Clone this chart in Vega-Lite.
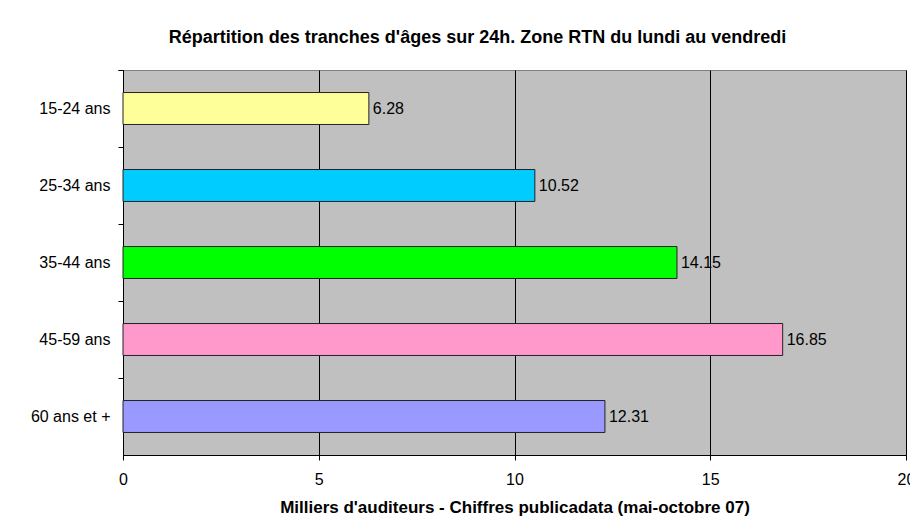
{
  "$schema": "https://vega.github.io/schema/vega-lite/v6.json",
  "width": 783,
  "height": 385,
  "autosize": {"type": "none"},
  "padding": {"left": 123, "top": 70, "right": 4, "bottom": 74},
  "background": "white",
  "title": {
    "text": "Répartition des tranches d'âges sur 24h. Zone RTN du lundi au vendredi",
    "font": "Liberation Sans",
    "fontSize": 18,
    "fontWeight": "bold",
    "color": "black",
    "anchor": "middle",
    "dx": -37,
    "offset": 15
  },
  "config": {
    "view": {"fill": "#C0C0C0", "stroke": "#808080", "strokeWidth": 1},
    "font": "Liberation Sans"
  },
  "data": {
    "values": [
      {"tranche": "15-24 ans", "valeur": 6.28},
      {"tranche": "25-34 ans", "valeur": 10.52},
      {"tranche": "35-44 ans", "valeur": 14.15},
      {"tranche": "45-59 ans", "valeur": 16.85},
      {"tranche": "60 ans et +", "valeur": 12.31}
    ]
  },
  "encoding": {
    "y": {
      "field": "tranche",
      "type": "nominal",
      "sort": ["15-24 ans", "25-34 ans", "35-44 ans", "45-59 ans", "60 ans et +"],
      "scale": {"paddingInner": 0, "paddingOuter": 0},
      "axis": {
        "title": null,
        "domainColor": "black",
        "tickColor": "black",
        "tickSize": 5,
        "bandPosition": 0,
        "tickExtra": true,
        "labelPadding": 8,
        "labelFont": "Liberation Sans",
        "labelFontSize": 16,
        "labelColor": "black",
        "grid": false
      }
    }
  },
  "layer": [
    {
      "mark": {"type": "bar", "height": {"band": 0.415}, "stroke": "#222222", "strokeWidth": 1},
      "encoding": {
        "x": {
          "field": "valeur",
          "type": "quantitative",
          "scale": {"domain": [0, 20], "nice": false},
          "axis": {
            "values": [0, 5, 10, 15, 20],
            "title": "Milliers d'auditeurs - Chiffres publicadata (mai-octobre 07)",
            "titleFont": "Liberation Sans",
            "titleFontSize": 17,
            "titleFontWeight": "bold",
            "titleColor": "black",
            "titlePadding": 12,
            "labelFont": "Liberation Sans",
            "labelFontSize": 16,
            "labelColor": "black",
            "labelPadding": 11,
            "labelFlush": false,
            "labelOverlap": false,
            "domainColor": "black",
            "tickColor": "black",
            "tickSize": 5,
            "grid": true,
            "gridColor": "black",
            "gridOpacity": 1,
            "gridWidth": 1
          }
        },
        "color": {
          "field": "tranche",
          "type": "nominal",
          "scale": {
            "domain": ["15-24 ans", "25-34 ans", "35-44 ans", "45-59 ans", "60 ans et +"],
            "range": ["#FFFF99", "#00CCFF", "#00FF00", "#FF99CC", "#9999FF"]
          },
          "legend": null
        }
      }
    },
    {
      "mark": {"type": "text", "align": "left", "baseline": "middle", "dx": 4, "fontSize": 16, "font": "Liberation Sans", "color": "black"},
      "encoding": {
        "x": {"field": "valeur", "type": "quantitative"},
        "text": {"field": "valeur", "type": "quantitative", "format": ".2f"}
      }
    }
  ]
}
